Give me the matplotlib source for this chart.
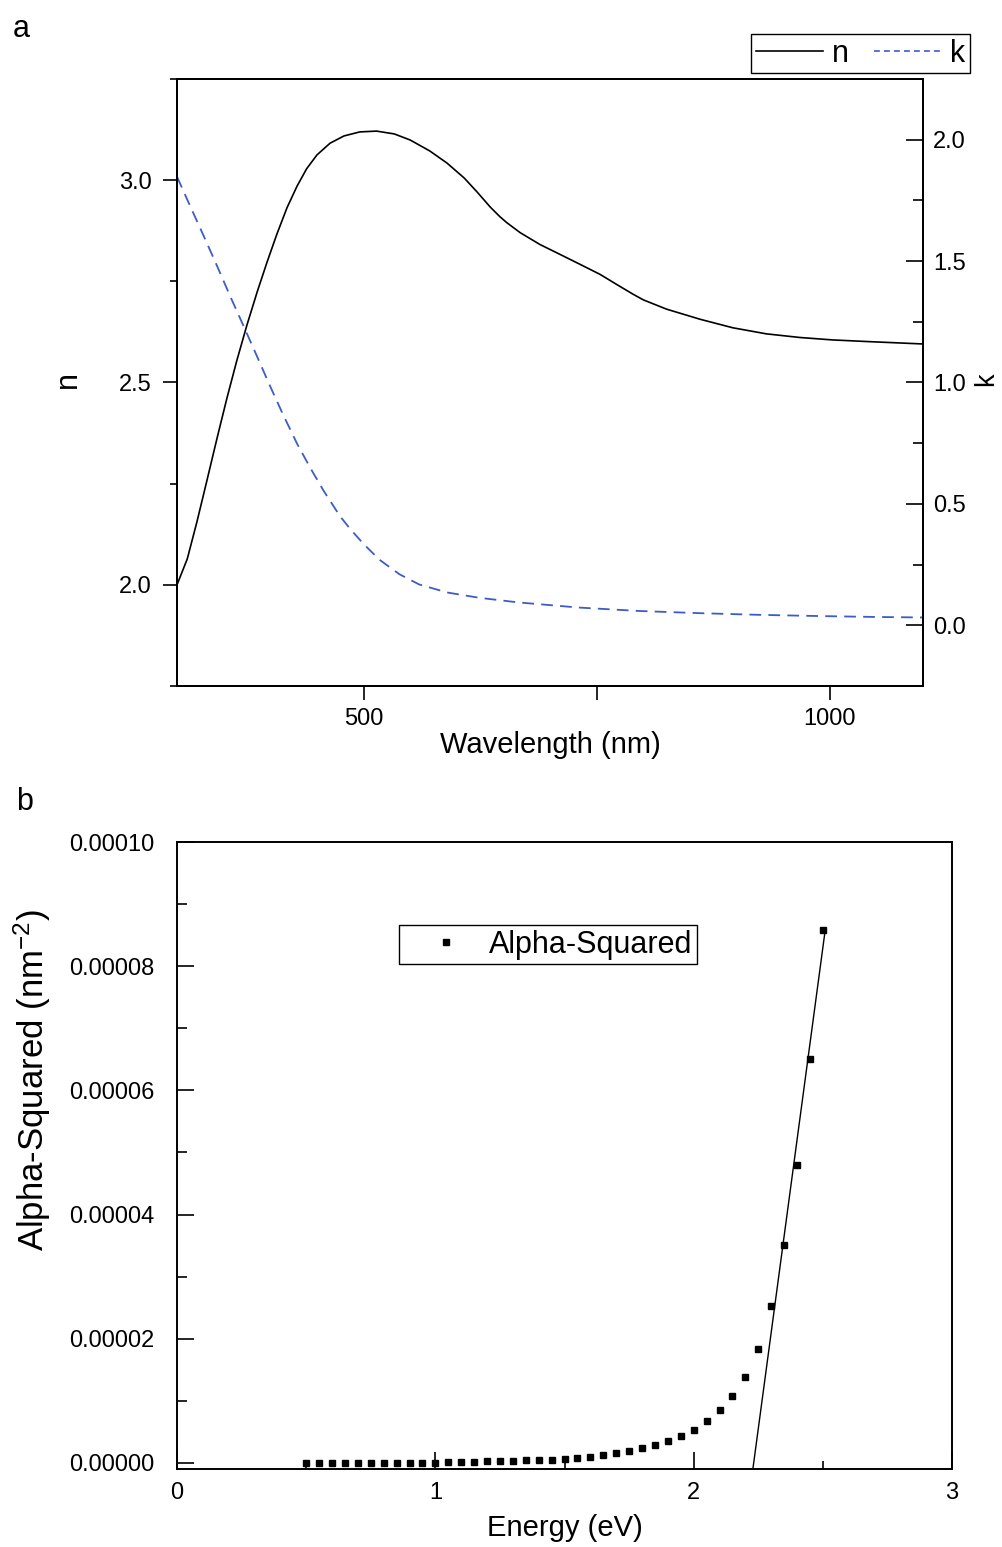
import numpy as np
import matplotlib
matplotlib.use("Agg")
from matplotlib import pyplot as plt
from matplotlib.ticker import MultipleLocator, FormatStrFormatter
from matplotlib.lines import Line2D
from matplotlib.legend_handler import HandlerLine2D

plt.rcParams['font.family'] = ['Liberation Sans', 'DejaVu Sans']
plt.rcParams['mathtext.fontset'] = 'custom'
plt.rcParams['mathtext.rm'] = 'Liberation Sans'
plt.rcParams['mathtext.default'] = 'regular'

# panel a: optical constants
wl_n = [300, 311, 321.4, 332, 343, 353.6, 364, 375, 386, 396.5, 407, 418, 428.7,
        439, 450, 464, 479, 496, 514, 533, 550, 571, 589.5, 608, 622, 636, 646,
        653.5, 668, 689, 711, 732, 753.6, 771.5, 789, 800, 825, 861, 896, 932,
        968, 1003, 1040, 1100]
n_vals = [2.0, 2.064, 2.156, 2.257, 2.363, 2.462, 2.553, 2.642, 2.724, 2.797,
          2.866, 2.932, 2.985, 3.028, 3.062, 3.091, 3.109, 3.119, 3.121, 3.114,
          3.099, 3.072, 3.042, 3.005, 2.97, 2.933, 2.91, 2.895, 2.870, 2.841,
          2.816, 2.792, 2.767, 2.742, 2.718, 2.704, 2.681, 2.656, 2.635, 2.62,
          2.611, 2.605, 2.601, 2.595]
wl_k = [300, 314, 328.6, 343, 357, 371.5, 385.8, 400, 414, 428.7, 442.6, 457,
        474.6, 486, 500, 517, 538.5, 559.6, 589.5, 624, 666, 730, 794, 858, 922,
        986, 1050, 1100]
k_vals = [1.847, 1.727, 1.603, 1.479, 1.355, 1.231, 1.107, 0.983, 0.865, 0.748,
          0.65, 0.555, 0.45, 0.395, 0.335, 0.27, 0.21, 0.168, 0.135, 0.113,
          0.094, 0.073, 0.059, 0.050, 0.043, 0.038, 0.034, 0.032]

# panel b: alpha squared vs energy
energy = [0.50, 0.55, 0.60, 0.65, 0.70, 0.75, 0.80, 0.85, 0.90, 0.95, 1.00,
          1.05, 1.10, 1.15, 1.20, 1.25, 1.30, 1.35, 1.40, 1.45, 1.50, 1.55,
          1.60, 1.65, 1.70, 1.75, 1.80, 1.85, 1.90, 1.95, 2.00, 2.05, 2.10,
          2.15, 2.20, 2.25, 2.30, 2.35, 2.40, 2.45, 2.50]
alpha_sq_e5 = [0.0, 0.0, 0.0, 0.0, 0.0, 0.0, 0.0, 0.0, 0.0, 0.0, 0.005,
               0.013, 0.013, 0.02, 0.026, 0.026, 0.033, 0.04, 0.046, 0.053, 0.059, 0.073,
               0.092, 0.125, 0.152, 0.19, 0.244, 0.29, 0.356, 0.435, 0.527, 0.679, 0.844,
               1.075, 1.378, 1.826, 2.525, 3.507, 4.792, 6.51, 8.589]
alpha_sq = np.array(alpha_sq_e5) * 1e-5
fit_energy = [2.229, 2.508]
fit_alpha = [-1.0e-6, 8.55e-5]

blue = '#3d5cc6'

fig = plt.figure(figsize=(10.03, 15.47), dpi=100)

# ---- panel a
ax = fig.add_axes([0.1765, 0.5566, 0.7438, 0.3924])
ax2 = ax.twinx()
ax.plot(wl_n, n_vals, color='black', lw=1.2, solid_joinstyle='round')
ax2.plot(wl_k, k_vals, color=blue, lw=1.3, ls=(0, (6.5, 4)))

ax.set_xlim(300, 1100)
ax.set_ylim(1.75, 3.25)
ax2.set_ylim(-0.25, 2.25)
ax.set_xticks([500, 750, 1000])
ax.set_xticklabels(['500', '', '1000'])
ax.set_yticks([2.0, 2.5, 3.0])
ax.yaxis.set_minor_locator(MultipleLocator(0.25))
ax2.set_yticks([0.0, 0.5, 1.0, 1.5, 2.0])
ax2.yaxis.set_minor_locator(MultipleLocator(0.25))

ax.tick_params(axis='x', direction='out', length=10, width=1.2, pad=6, labelsize=17)
ax.tick_params(axis='y', which='major', direction='out', length=10, width=1.2, pad=8, labelsize=17)
ax.tick_params(axis='y', which='minor', direction='out', length=5, width=1.2)
ax2.tick_params(axis='y', which='major', direction='in', length=12, width=1.2, pad=7, labelsize=17)
ax2.tick_params(axis='y', which='minor', direction='in', length=7, width=1.2)
for a in (ax, ax2):
    for s in a.spines.values():
        s.set_linewidth(1.4)

ax.set_xlabel('Wavelength (nm)', fontsize=21)
ax.set_ylabel('n', fontsize=22)
ax2.set_ylabel('k', fontsize=19.5)
ax.xaxis.set_label_coords(0.5, -0.075)
ax.yaxis.set_label_coords(-0.126, 0.504)
ax2.yaxis.set_label_coords(1.067, 0.505)

# legend proxies (shorter dashes, as drawn in the reference key)
h_n = Line2D([], [], color='black', lw=1.2)
h_k = Line2D([], [], color=blue, lw=1.2, ls=(0, (3.5, 2.5)))
leg = fig.legend(handles=[h_n, h_k], labels=['n', 'k'], loc='upper right', ncol=2,
                 bbox_to_anchor=(970 / 1003, 1 - 34 / 1547), fontsize=22,
                 frameon=True, fancybox=False, edgecolor='black', framealpha=1,
                 handlelength=2.2, handletextpad=0.3, columnspacing=0.8,
                 borderpad=0.15, borderaxespad=0)
leg.get_frame().set_linewidth(1.0)

# ---- panel b
bx = fig.add_axes([0.1765, 0.0504, 0.7727, 0.4053])
pts, = bx.plot(energy, alpha_sq, ls='none', marker='s', ms=4.2, color='black',
               label='Alpha-Squared')
bx.plot(fit_energy, fit_alpha, color='black', lw=1.0)
bx.set_xlim(0, 3)
bx.set_ylim(-1e-6, 1e-4)
bx.xaxis.set_major_locator(MultipleLocator(1))
bx.xaxis.set_minor_locator(MultipleLocator(0.5))
bx.yaxis.set_major_locator(MultipleLocator(2e-5))
bx.yaxis.set_minor_locator(MultipleLocator(1e-5))
bx.yaxis.set_major_formatter(FormatStrFormatter('%.5f'))
bx.tick_params(axis='x', which='major', direction='in', length=12, width=1.2, pad=9, labelsize=17)
bx.tick_params(axis='x', which='minor', direction='in', length=6, width=1.2)
bx.tick_params(axis='y', which='major', direction='in', length=12, width=1.2, pad=16, labelsize=17)
bx.tick_params(axis='y', which='minor', direction='in', length=7, width=1.2)
for s in bx.spines.values():
    s.set_linewidth(1.4)

bx.set_xlabel('Energy (eV)', fontsize=21)
bx.set_ylabel('Alpha-Squared (nm$^{-2}$)', fontsize=25)
bx.xaxis.set_label_coords(0.5, -0.072)
bx.yaxis.set_label_coords(-0.16, 0.62)

leg2 = bx.legend(handles=[pts], loc='upper left',
                 bbox_to_anchor=(399 / 1003, 1 - 925 / 1547),
                 bbox_transform=fig.transFigure, fontsize=22, frameon=True,
                 fancybox=False, edgecolor='black', framealpha=1,
                 handlelength=2.0, handletextpad=0.8, borderpad=0.15,
                 borderaxespad=0,
                 handler_map={pts: HandlerLine2D(numpoints=1, xpad=0.8)})
leg2.get_frame().set_linewidth(1.0)

fig.text(0.013, 0.991, 'a', fontsize=22, va='top')
fig.text(0.016, 0.491, 'b', fontsize=22, va='top')

fig.savefig('out.png', dpi=100)
